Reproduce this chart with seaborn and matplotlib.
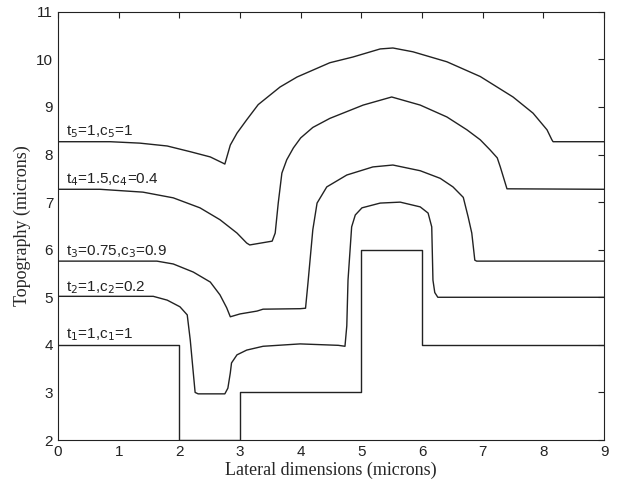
import pandas as pd
import numpy as np
import matplotlib
matplotlib.use("Agg")
import matplotlib.pyplot as plt
import seaborn as sns

# ============================================================================
# DATA
# ============================================================================
# curve 1: the original stepped profile
x1 = [0, 2, 2, 3, 3, 5, 5, 6, 6, 9]
y1 = [4, 4, 2, 2, 3, 3, 6, 6, 4, 4]

# curve 2: t=1, c=0.2
x2 = [0, 1.57, 1.8, 2.01, 2.13, 2.18, 2.23, 2.26, 2.31, 2.75, 2.8, 2.84, 2.86,
      2.95, 3.11, 3.38, 3.99, 4.62, 4.73, 4.76, 4.78, 4.84, 4.9, 5.01, 5.31,
      5.64, 5.97, 6.1, 6.16, 6.18, 6.21, 6.26, 6.4, 9]
y2 = [5.02, 5.02, 4.94, 4.8, 4.63, 4.1, 3.41, 3.0, 2.97, 2.97, 3.09, 3.41, 3.62,
      3.79, 3.89, 3.97, 4.02, 3.99, 3.97, 4.4, 5.36, 6.48, 6.73, 6.88, 6.98,
      7.0, 6.9, 6.77, 6.48, 5.36, 5.1, 5.0, 5.0, 5.0]

# curve 3: t=0.75, c=0.9
x3 = [0, 1.63, 1.9, 2.23, 2.51, 2.67, 2.78, 2.84, 3.0, 3.28, 3.38, 3.99, 4.08,
      4.12, 4.17, 4.2, 4.27, 4.43, 4.76, 5.19, 5.52, 5.97, 6.3, 6.51, 6.68,
      6.76, 6.82, 6.87, 6.9, 9]
y3 = [5.76, 5.76, 5.7, 5.53, 5.32, 5.05, 4.78, 4.59, 4.65, 4.71, 4.75, 4.76, 4.77,
      5.3, 6.0, 6.42, 6.98, 7.32, 7.57, 7.74, 7.78, 7.66, 7.5, 7.32, 7.1,
      6.69, 6.35, 5.78, 5.76, 5.76]

# curve 4: t=1.5, c=0.4
x4 = [0, 0.69, 1.4, 1.9, 2.34, 2.67, 2.95, 3.11, 3.16, 3.53, 3.58, 3.63, 3.69,
      3.77, 3.88, 4.0, 4.2, 4.48, 5.03, 5.5, 5.97, 6.41, 6.74, 6.96, 7.12,
      7.24, 7.29, 7.4, 9]
y4 = [7.27, 7.27, 7.21, 7.09, 6.88, 6.63, 6.35, 6.14, 6.1, 6.18, 6.35, 6.98, 7.61,
      7.89, 8.14, 8.35, 8.57, 8.76, 9.04, 9.21, 9.04, 8.79, 8.52, 8.31, 8.1,
      7.93, 7.74, 7.28, 7.27]

# curve 5: t=1, c=1
x5 = [0, 0.86, 1.35, 1.8, 2.18, 2.51, 2.72, 2.75, 2.84, 2.95, 3.11, 3.3, 3.66,
      3.94, 4.48, 4.86, 5.31, 5.52, 5.85, 6.41, 6.96, 7.5, 7.83, 8.06, 8.14,
      8.16, 9]
y5 = [8.27, 8.27, 8.24, 8.18, 8.06, 7.95, 7.82, 7.8, 8.2, 8.45, 8.73, 9.05, 9.42,
      9.63, 9.93, 10.05, 10.22, 10.24, 10.16, 9.95, 9.64, 9.21, 8.87, 8.52, 8.31,
      8.27, 8.27]

curve_labels = [r"t$_1$=1,c$_1$=1", r"t$_2$=1,c$_2$=0.2",
                r"t$_3$=0.75,c$_3$=0.9", r"t$_4$=1.5,c$_4$=0.4",
                r"t$_5$=1,c$_5$=1"]
base_levels = [4, 5, 5.76, 7.27, 8.27]

# ============================================================================
# BUILD LONG TABLE
# ============================================================================
frames = []
for i, (xs, ys) in enumerate([(x1, y1), (x2, y2), (x3, y3), (x4, y4), (x5, y5)]):
    frames.append(pd.DataFrame({"x": xs, "y": ys, "curve": i}))
df = pd.concat(frames, ignore_index=True)

# ============================================================================
# PLOT
# ============================================================================
sns.set_style("white")
plt.rcParams.update({
    "xtick.direction": "in", "ytick.direction": "in",
    "xtick.top": True, "ytick.right": True,
    "xtick.major.size": 4, "ytick.major.size": 4,
    "axes.linewidth": 0.8, "axes.edgecolor": "#222222",
})
plt.rcParams["font.family"] = ["Liberation Sans", "DejaVu Sans"]

fig = plt.figure(figsize=(6.17, 4.93), dpi=100)
ax = fig.add_axes([0.094, 0.1075, 0.885, 0.8685])

sns.lineplot(data=df, x="x", y="y", units="curve", estimator=None, sort=False,
             color="#222222", linewidth=1.0, ax=ax)

for lab, lvl in zip(curve_labels, base_levels):
    ax.text(0.13, lvl + 0.13, lab, fontsize=11, va="baseline", ha="left",
            color="#222222", family=["Liberation Sans", "DejaVu Sans"])

ax.set_xlim(0, 9)
ax.set_ylim(2, 11)
ax.set_xticks(range(0, 10))
ax.set_yticks(range(2, 12))
ax.tick_params(labelsize=11, colors="#222222")
ax.set_xlabel("Lateral dimensions (microns)", fontsize=13,
              family=["Liberation Serif", "DejaVu Serif"], labelpad=2)
ax.set_ylabel("Topography (microns)", fontsize=13,
              family=["Liberation Serif", "DejaVu Serif"], labelpad=4)

plt.savefig("out.png", dpi=100)
